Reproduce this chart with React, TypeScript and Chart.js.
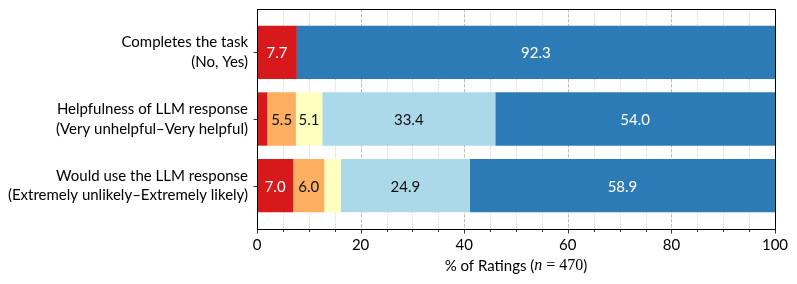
import React, { useEffect, useRef } from 'react';
import { Chart, registerables } from 'chart.js';

Chart.register(...registerables);

// ---- data ----
const categories: string[][] = [
  ['Completes the task', '(No, Yes)'],
  ['Helpfulness of LLM response', '(Very unhelpful–Very helpful)'],
  ['Would use the LLM response', '(Extremely unlikely–Extremely likely)'],
];
const levelNames = ['Level 1', 'Level 2', 'Level 3', 'Level 4', 'Level 5'];
const level1: (number | null)[] = [7.7, 2.0, 7.0];
const level2: (number | null)[] = [null, 5.5, 6.0];
const level3: (number | null)[] = [null, 5.1, 3.2];
const level4: (number | null)[] = [null, 33.4, 24.9];
const level5: (number | null)[] = [92.3, 54.0, 58.9];
const xTicks = [0, 20, 40, 60, 80, 100];
const xMinorTicks = [0, 5, 10, 15, 20, 25, 30, 35, 40, 45, 50, 55, 60, 65, 70, 75, 80, 85, 90, 95, 100];
const xTitleParts = ['% of Ratings (', 'n', ' = 470', ')'];
const Y_MIN = -0.65;
const Y_MAX = 2.65;

// ---- style ----
const levelColors = ['#d7191c', '#fdae61', '#ffffbf', '#abd9e9', '#2c7bb6'];
const labelColors = ['#ffffff', '#111111', '#111111', '#111111', '#ffffff'];
const FONT = 'Lato, "Open Sans", sans-serif';
const SERIF = '"Liberation Serif", "DejaVu Serif", serif';

const decorPlugin = {
  id: 'decor',
  beforeDatasetsDraw(chart: any) {
    const { ctx, chartArea } = chart;
    const xs = chart.scales.x;
    ctx.save();
    for (const v of xMinorTicks) {
      if (v === 0 || v === 100) continue;
      const x = Math.round(xs.getPixelForValue(v)) + 0.5;
      ctx.beginPath();
      if (v % 20 === 0) {
        ctx.strokeStyle = '#b5b5b5';
        ctx.setLineDash([3.5, 1.5]);
      } else {
        ctx.strokeStyle = '#c4c4c4';
        ctx.setLineDash([1, 1.5]);
      }
      ctx.lineWidth = 0.9;
      ctx.moveTo(x, chartArea.top);
      ctx.lineTo(x, chartArea.bottom);
      ctx.stroke();
    }
    ctx.restore();
  },
  afterDatasetsDraw(chart: any) {
    const { ctx } = chart;
    ctx.save();
    ctx.font = `15px ${FONT}`;
    ctx.textAlign = 'center';
    ctx.textBaseline = 'middle';
    chart.data.datasets.forEach((ds: any, k: number) => {
      const meta = chart.getDatasetMeta(k);
      meta.data.forEach((el: any, i: number) => {
        const v = ds.data[i].x;
        if (v == null || v < 4) return;
        const cx = (el.x + el.base) / 2;
        ctx.fillStyle = labelColors[k];
        ctx.fillText(v.toFixed(1), cx, el.y + 1);
      });
    });
    ctx.restore();
  },
  afterDraw(chart: any) {
    const { ctx, chartArea } = chart;
    const xs = chart.scales.x;
    const ys = chart.scales.y;
    ctx.save();
    ctx.setLineDash([]);
    ctx.strokeStyle = '#000';
    ctx.lineWidth = 1;
    const l = Math.round(chartArea.left) + 0.5;
    const r = Math.round(chartArea.right) + 0.5;
    const t = Math.round(chartArea.top) + 0.5;
    const b = Math.round(chartArea.bottom) + 0.5;
    ctx.strokeRect(l, t, r - l, b - t);
    ctx.lineWidth = 0.8;
    for (const v of xMinorTicks) {
      const x = Math.round(xs.getPixelForValue(v)) + 0.5;
      const len = v % 20 === 0 ? 4 : 2.5;
      ctx.beginPath();
      ctx.moveTo(x, b);
      ctx.lineTo(x, b + len);
      ctx.stroke();
    }
    categories.forEach((_, i) => {
      const y = Math.round(ys.getPixelForValue(i)) + 0.5;
      ctx.beginPath();
      ctx.moveTo(l, y);
      ctx.lineTo(l - 4, y);
      ctx.stroke();
    });
    // x title with italic math n
    const fonts = [`15px ${FONT}`, `italic 16px ${SERIF}`, `16px ${SERIF}`, `15px ${FONT}`];
    let total = 0;
    const widths = xTitleParts.map((p, k) => {
      ctx.font = fonts[k];
      const w = ctx.measureText(p).width;
      total += w;
      return w;
    });
    let x = (chartArea.left + chartArea.right) / 2 - total / 2;
    const y = 266;
    ctx.fillStyle = '#000';
    ctx.textBaseline = 'middle';
    ctx.textAlign = 'left';
    xTitleParts.forEach((p, k) => {
      ctx.font = fonts[k];
      ctx.fillText(p, x, y);
      x += widths[k];
    });
    ctx.restore();
  },
};

export default function App() {
  const ref = useRef<HTMLCanvasElement>(null);
  useEffect(() => {
    const canvas = ref.current;
    if (!canvas) return;
    const series = [level1, level2, level3, level4, level5];
    const chart = new Chart(canvas, {
      type: 'bar',
      data: {
        datasets: series.map((vals, k) => ({
          label: levelNames[k],
          data: vals
            .map((v, i) => (v == null ? null : { x: v, y: i }))
            .filter((d) => d !== null) as any,
          backgroundColor: levelColors[k],
          borderWidth: 0,
          barPercentage: 0.8,
          categoryPercentage: 1,
        })),
      },
      options: {
        indexAxis: 'y',
        animation: false,
        responsive: true,
        maintainAspectRatio: false,
        layout: { padding: { top: 9, right: 22, left: 0, bottom: 0 } },
        plugins: { legend: { display: false }, tooltip: { enabled: false } },
        scales: {
          x: {
            type: 'linear',
            stacked: true,
            min: 0,
            max: 100,
            position: 'bottom',
            afterBuildTicks: (s: any) => {
              s.ticks = xTicks.map((v) => ({ value: v }));
              s.min = 0;
              s.max = 100;
            },
            ticks: {
              color: '#000',
              padding: 7,
              maxRotation: 0,
              font: { family: FONT, size: 15 },
              callback: (v: any) => String(v),
            },
            grid: { display: false, drawTicks: false },
            border: { display: false },
            afterFit: (s: any) => {
              s.height = 55;
              s.paddingLeft = 0;
              s.paddingRight = 0;
            },
          },
          y: {
            type: 'linear',
            stacked: true,
            reverse: true,
            offset: false,
            bounds: 'data',
            min: Y_MIN,
            max: Y_MAX,
            afterBuildTicks: (s: any) => {
              s.ticks = categories.map((_, i) => ({ value: i }));
              s.min = Y_MIN;
              s.max = Y_MAX;
            },
            ticks: {
              color: '#000',
              padding: 9,
              font: { family: FONT, size: 15, lineHeight: 1.3 },
              callback: (v: any) => categories[v] as any,
            },
            grid: { display: false, drawTicks: false, offset: false },
            border: { display: false },
            afterFit: (s: any) => {
              s.width = 257;
              s.paddingTop = 0;
              s.paddingBottom = 0;
            },
          },
        } as any,
      },
      plugins: [decorPlugin],
    });
    return () => chart.destroy();
  }, []);
  return (
    <div style={{ position: 'fixed', left: 0, top: 0, width: 797, height: 284, background: '#fff' }}>
      <canvas ref={ref} />
    </div>
  );
}
